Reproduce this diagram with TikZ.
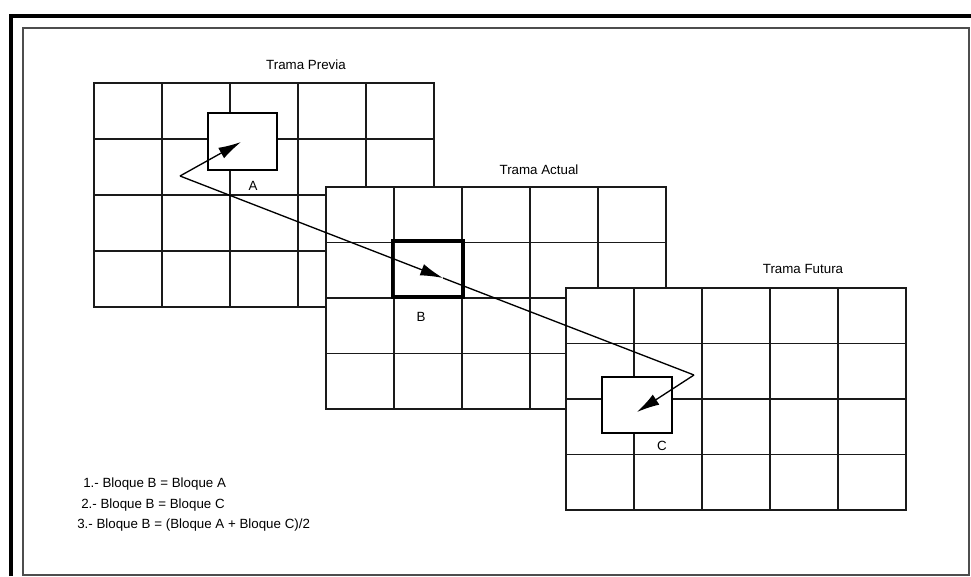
\documentclass[tikz,border=0pt]{standalone}
\usepackage{fontspec}
\setmainfont{Liberation Sans}
\usepackage{xcolor}
\usetikzlibrary{arrows.meta}
\definecolor{InkLine}{HTML}{1A1A1A}
\definecolor{FrameGray}{HTML}{4D4D4D}

\begin{document}
\begin{tikzpicture}[x=0.75pt, y=-0.75pt,
		cell/.style={draw=InkLine, line width=1.05pt},
		blockbox/.style={draw=black, fill=white, line width=1.6pt, inner sep=0pt},
		vec/.style={-{Latex[length=17pt, width=9pt]}, line width=1pt},
		txt/.style={font=\fontsize{10}{12}\selectfont, inner sep=0pt}]
		\useasboundingbox (0,0) rectangle (971,576);
		
		% Frame
		\draw[line width=2.3pt] (11,576) -- (11,16) -- (971,16);
		\draw[FrameGray, line width=1.5pt] (23,28) rectangle (969,575);
		
		% Frames (previous, current, future)
		\foreach \fx/\fy/\fh in {94/83/224, 326/187/222, 566/288/222} {
			\fill[white] (\fx,\fy) rectangle ++(340,\fh);
			\foreach \i in {1,...,4}
				\draw[cell] (\fx+\i*68,\fy) -- ++(0,\fh);
			\foreach \j in {1,2,3}
				\draw[cell] (\fx,\fy+\j*\fh/4) -- ++(340,0);
			\draw[cell] (\fx,\fy) rectangle ++(340,\fh);
		}
		
		% Blocks
		\node[blockbox, minimum width=51.75pt, minimum height=42.75pt] (blkA) at (242.5,141.5) {};
		\node[blockbox, fill=none, line width=2.5pt, minimum width=53pt, minimum height=42pt] (blkB) at (427.5,269) {};
		\node[blockbox, minimum width=52.5pt, minimum height=42pt] (blkC) at (637,405) {};
		
		% Motion path
		\coordinate (turnA) at (180,176);
		\coordinate (tipA) at (241,142);
		\coordinate (tipB) at (443,278);
		\coordinate (turnC) at (694,375);
		\coordinate (tipC) at (637,412);
		\draw[vec] (turnA) -- (tipA);
		\draw[vec] (turnA) -- (tipB);
		\draw[line width=1pt] (tipB) -- (turnC);
		\draw[vec] (turnC) -- (tipC);
		
		% Labels
		\node[txt] (ttlPrev) at (306,65) {Trama Previa};
		\node[txt] (ttlCur) at (539,170) {Trama Actual};
		\node[txt] (ttlFut) at (803,269) {Trama Futura};
		\node[txt] (lblA) at (253,186) {A};
		\node[txt] (lblB) at (421,317) {B};
		\node[txt] (lblC) at (662,446) {C};
		
		% Legend
		\node[txt, anchor=west] (leg1) at (83,484) {1.- Bloque B = Bloque A};
		\node[txt, anchor=west] (leg2) at (81,505) {2.- Bloque B = Bloque C};
		\node[txt, anchor=west] (leg3) at (77,525) {3.- Bloque B = (Bloque A + Bloque C)/2};
	\end{tikzpicture}
\end{document}
